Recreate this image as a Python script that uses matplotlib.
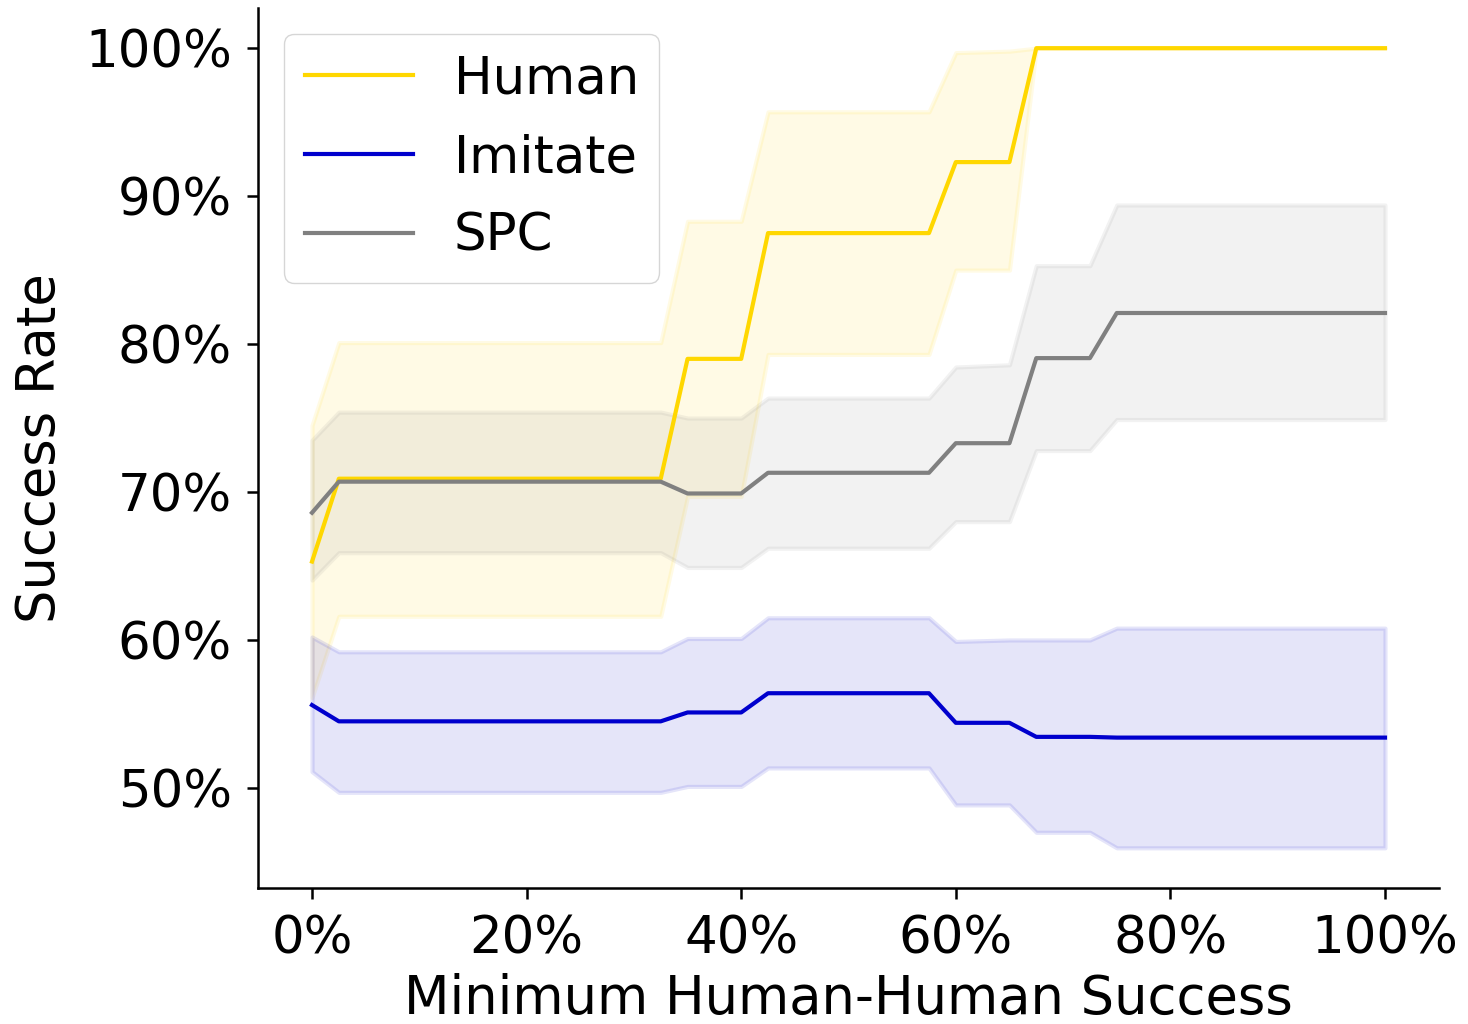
import numpy as np
import matplotlib.pyplot as plt
from matplotlib.ticker import PercentFormatter

# threshold on minimum human-human success (%)
thresholds = [0, 2.5, 32.5, 35, 40, 42.5, 57.5, 60, 65, 67.5, 72.5, 75, 100]

human_mean = [65.3, 70.9, 70.9, 79.0, 79.0, 87.5, 87.5, 92.3, 92.3, 100, 100, 100, 100]
human_upper = [74.5, 80.1, 80.1, 88.3, 88.3, 95.7, 95.7, 99.7, 99.8, 100, 100, 100, 100]
human_lower = [56.1, 61.6, 61.6, 69.7, 69.7, 79.3, 79.3, 85.0, 85.0, 100, 100, 100, 100]

imitate_mean = [55.6, 54.5, 54.5, 55.1, 55.1, 56.4, 56.4, 54.4, 54.4, 53.45, 53.45, 53.4, 53.4]
imitate_upper = [60.2, 59.2, 59.2, 60.1, 60.1, 61.5, 61.5, 59.9, 60.0, 60.0, 60.0, 60.8, 60.8]
imitate_lower = [51.1, 49.7, 49.7, 50.1, 50.1, 51.35, 51.35, 48.85, 48.85, 47.0, 47.0, 45.95, 45.95]

spc_mean = [68.6, 70.7, 70.7, 69.9, 69.9, 71.3, 71.3, 73.3, 73.3, 79.05, 79.05, 82.1, 82.1]
spc_upper = [73.5, 75.4, 75.4, 75.0, 75.0, 76.35, 76.35, 78.45, 78.6, 85.3, 85.3, 89.4, 89.4]
spc_lower = [64.05, 65.9, 65.9, 64.9, 64.9, 66.2, 66.2, 68.0, 68.0, 72.8, 72.8, 74.9, 74.9]

series = [
    ('Human', human_mean, human_lower, human_upper, 'gold'),
    ('Imitate', imitate_mean, imitate_lower, imitate_upper, 'mediumblue'),
    ('SPC', spc_mean, spc_lower, spc_upper, 'gray'),
]

plt.rcParams['font.size'] = 37
fig, ax = plt.subplots(figsize=(14.68, 10.24), dpi=100)

for name, mean, lo, hi, color in series:
    ax.fill_between(thresholds, lo, hi, color=color, alpha=0.1, linewidth=3)
    ax.plot(thresholds, mean, color=color, linewidth=3, label=name)

ax.xaxis.set_major_formatter(PercentFormatter(decimals=0))
ax.yaxis.set_major_formatter(PercentFormatter(decimals=0))
ax.set_xticks([0, 20, 40, 60, 80, 100])
ax.set_yticks([50, 60, 70, 80, 90, 100])
ax.set_xlabel('Minimum Human-Human Success', fontsize=38, labelpad=6)
ax.set_ylabel('Success Rate', fontsize=38, labelpad=14)
ax.spines['top'].set_visible(False)
ax.spines['right'].set_visible(False)
for s in ['left', 'bottom']:
    ax.spines[s].set_linewidth(1.8)
ax.tick_params(width=1.8, length=8, pad=11)
ax.legend(loc='upper left', handlelength=2.1, labelspacing=0.56)

plt.subplots_adjust(left=0.176, right=0.98, top=0.992, bottom=0.133)
plt.savefig('out.png')
